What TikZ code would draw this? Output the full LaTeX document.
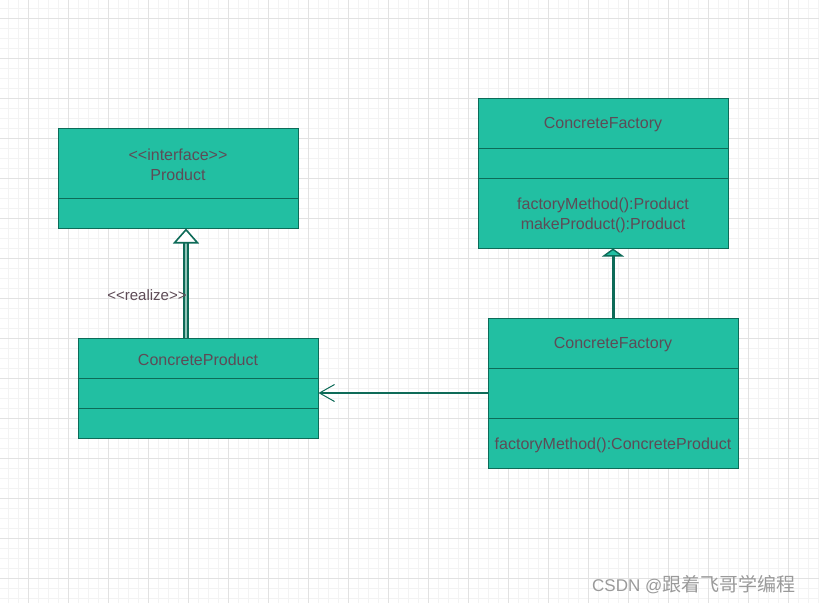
\documentclass[tikz,border=0pt]{standalone}
\usepackage{fontspec}
\setmainfont{Liberation Sans}
\newfontfamily\cjk{Noto Sans CJK SC}
\usetikzlibrary{arrows.meta,calc}
\definecolor{boxfill}{HTML}{22BFA2}
\definecolor{boxline}{HTML}{0E6B58}
\definecolor{txt}{HTML}{5E4B56}
\definecolor{gridmin}{HTML}{F3F3F3}
\definecolor{gridmaj}{HTML}{E2E2E2}
\definecolor{dblin}{HTML}{8FC4B7}
\definecolor{wm}{HTML}{9A9A9A}
\begin{document}
\begin{tikzpicture}[x=1pt,y=-1pt,
  umlbox/.style={draw=boxline, fill=boxfill, line width=1pt, inner sep=0pt, rectangle},
  lbl/.style={text=txt, font=\fontsize{16}{20}\selectfont, inner sep=0pt, align=center},
  divider/.style={draw=boxline, line width=1pt},
  realize/.style={draw=boxline, line width=1.4pt, double=dblin, double distance=2.4pt,
    -{Triangle[open, length=15pt, width=26pt, fill=white, line width=1.6pt]}},
  inherit/.style={draw=boxline, line width=3pt,
    -{Triangle[length=8pt, width=22pt, fill=boxfill, line width=1.4pt]}},
  assoc/.style={draw=boxline, line width=1.1pt,
    -{Straight Barb[length=15pt, width=17pt, line width=1pt]}}]
\useasboundingbox (0,0) rectangle (819,603);
\fill[white] (0,0) rectangle (819,603);
\foreach \x in {8,18,...,818} \draw[gridmin, line width=0.8pt] (\x,0) -- (\x,603);
\foreach \y in {8,18,...,598} \draw[gridmin, line width=0.8pt] (0,\y) -- (819,\y);
\foreach \x in {28,68,...,808} \draw[gridmaj, line width=0.9pt] (\x,0) -- (\x,603);
\foreach \y in {18,58,...,578} \draw[gridmaj, line width=0.9pt] (0,\y) -- (819,\y);

% Product
\node[umlbox, minimum width=240pt, minimum height=100pt] (prod) at (178,178) {};
\draw[divider] (prod.west |- 0,198) -- (prod.east |- 0,198);
\node[lbl] (prodname) at (178,165) {{<}{<}interface{>}{>}\\Product};

% ConcreteProduct
\node[umlbox, minimum width=240pt, minimum height=100pt] (cp) at (198,388) {};
\draw[divider] (cp.west |- 0,378) -- (cp.east |- 0,378);
\draw[divider] (cp.west |- 0,408) -- (cp.east |- 0,408);
\node[lbl] (cpname) at (198,360) {ConcreteProduct};

% ConcreteFactory (top)
\node[umlbox, minimum width=250pt, minimum height=150pt] (cf1) at (603,173) {};
\draw[divider] (cf1.west |- 0,148) -- (cf1.east |- 0,148);
\draw[divider] (cf1.west |- 0,178) -- (cf1.east |- 0,178);
\node[lbl] (cf1name) at (603,125) {ConcreteFactory};
\node[lbl] (cf1ops) at (603,215) {factoryMethod():Product\\makeProduct():Product};

% ConcreteFactory (bottom)
\node[umlbox, minimum width=250pt, minimum height=150pt] (cf2) at (613,393) {};
\draw[divider] (cf2.west |- 0,368) -- (cf2.east |- 0,368);
\draw[divider] (cf2.west |- 0,418) -- (cf2.east |- 0,418);
\node[lbl] (cf2name) at (613,345) {ConcreteFactory};
\node[lbl] (cf2ops) at (613,445) {factoryMethod():ConcreteProduct};

% connectors
\draw[realize] ($(cp.north)+(-12,0)$) -- ($(prod.south)+(8,0)$);
\node[lbl, font=\fontsize{15}{18}\selectfont] (rlbl) at (147,295) {{<}{<}realize{>}{>}};
\draw[inherit] (cf2.north) -- ($(cf1.south)+(10,0)$);
\draw[assoc] (cf2.west) -- (cf2.west -| cp.east);

% watermark
\node[anchor=west, text=wm, font=\fontsize{17}{20}\selectfont, inner sep=0pt] (wmark) at (592,585) {CSDN @{\cjk\fontsize{19}{20}\selectfont 跟着飞哥学编程}};
\end{tikzpicture}
\end{document}
